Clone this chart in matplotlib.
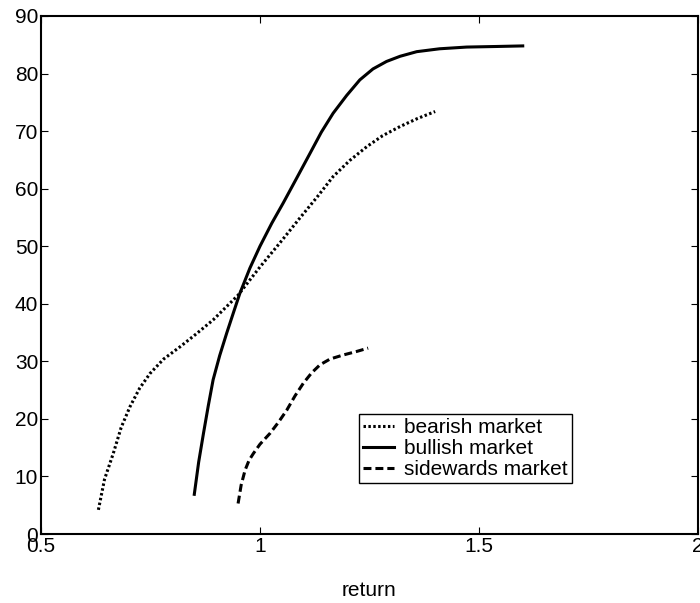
import matplotlib
matplotlib.use("Agg")
import matplotlib.pyplot as plt

plt.rcParams['font.family'] = ['Liberation Sans', 'DejaVu Sans']

# values
bear_x = [0.631, 0.645, 0.665, 0.683, 0.703, 0.725, 0.749, 0.78, 0.817, 0.855, 0.893,
          0.95, 1.0, 1.05, 1.09, 1.13, 1.167, 1.205, 1.244, 1.28, 1.32, 1.36, 1.40]
bear_y = [4.2, 9.5, 14.0, 18.5, 22.1, 25.3, 27.9, 30.4, 32.5, 34.8, 37.2,
          41.5, 46.4, 51.0, 54.8, 58.5, 62.1, 64.9, 67.3, 69.2, 70.8, 72.2, 73.4]

bull_x = [0.850, 0.860, 0.871, 0.882, 0.893, 0.908, 0.924, 0.940, 0.954, 0.977, 1.0,
          1.027, 1.053, 1.085, 1.114, 1.14, 1.167, 1.198, 1.228, 1.258, 1.289, 1.32,
          1.358, 1.41, 1.472, 1.54, 1.60]
bull_y = [6.9, 12.5, 17.5, 22.3, 26.8, 31.0, 34.9, 38.6, 41.8, 46.2, 50.0,
          54.0, 57.5, 62.0, 66.1, 69.8, 73.1, 76.2, 78.9, 80.8, 82.1, 83.0,
          83.8, 84.3, 84.6, 84.7, 84.8]

side_x = [0.950, 0.957, 0.966, 0.975, 0.985, 1.0, 1.023, 1.042, 1.061, 1.08, 1.099,
          1.118, 1.137, 1.16, 1.19, 1.22, 1.247]
side_y = [5.3, 8.5, 11.1, 12.8, 14.0, 15.6, 17.5, 19.4, 21.5, 24.0, 26.2,
          28.0, 29.4, 30.4, 31.1, 31.7, 32.3]

fig, ax = plt.subplots(figsize=(7, 6.03), dpi=100)
fig.subplots_adjust(left=0.0586, right=0.997, top=0.9735, bottom=0.1144)

ax.plot(bear_x, bear_y, color='black', lw=2.2, linestyle=(0, (0.8, 0.8)), label='bearish market')
ax.plot(bull_x, bull_y, color='black', lw=2.2, label='bullish market')
ax.plot(side_x, side_y, color='black', lw=2.2, linestyle=(0, (2.6, 1.3)), label='sidewards market')

ax.set_xlim(0.5, 2)
ax.set_ylim(0, 90)
ax.set_xticks([0.5, 1, 1.5, 2])
ax.set_xticklabels(['0.5', '1', '1.5', '2'])
ax.set_yticks(range(0, 91, 10))

for s in ax.spines.values():
    s.set_linewidth(1.5)
ax.tick_params(direction='in', length=5, width=0.8, top=True, right=True,
               labelsize=15, pad=2)
ax.tick_params(axis='y', pad=2)
ax.set_xlabel('return', fontsize=15, labelpad=18)

leg = ax.legend(loc='lower left', bbox_to_anchor=(0.484, 0.098), fontsize=15,
                frameon=True, fancybox=False, edgecolor='black', framealpha=1,
                handlelength=1.5, handletextpad=0.45, borderpad=0.2,
                labelspacing=0.1, borderaxespad=0)
leg.get_frame().set_linewidth(1.0)

fig.savefig('out.png', dpi=100)
